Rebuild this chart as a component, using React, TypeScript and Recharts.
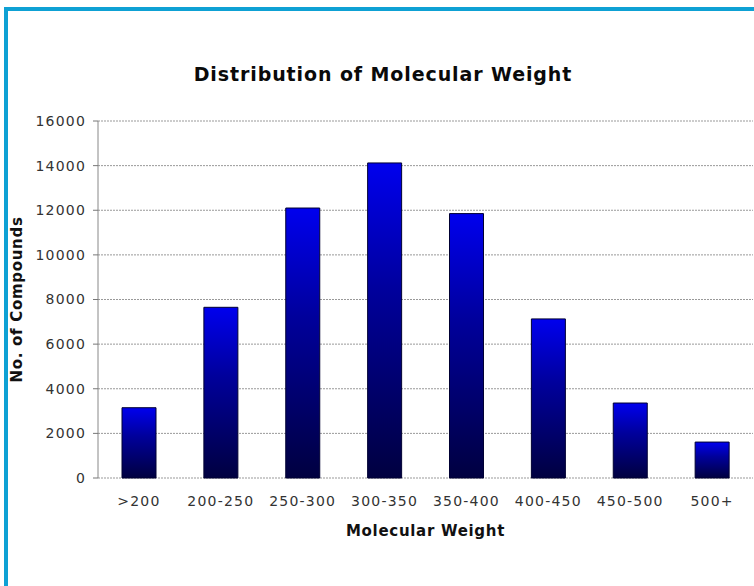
import React from "react";
import { BarChart, Bar, XAxis, YAxis, CartesianGrid, Label } from "recharts";

const categories = [">200", "200-250", "250-300", "300-350", "350-400", "400-450", "450-500", "500+"];
const compounds = [3150, 7650, 12100, 14120, 11850, 7130, 3360, 1610];
const yTicks = [0, 2000, 4000, 6000, 8000, 10000, 12000, 14000, 16000];
const edgeTicks = [0, 1, 2, 3, 4, 5, 6, 7, 8];

const data = categories.map((name, i) => ({ name, value: compounds[i] }));

const font = "'DejaVu Sans', Verdana, sans-serif";

export default function App() {
  return (
    <div style={{ position: "absolute", left: 0, top: 0, width: 754, height: 586, background: "#fff", overflow: "hidden" }}>
      {/* frame */}
      <div
        style={{
          position: "absolute",
          left: 4,
          top: 7,
          width: 800,
          height: 640,
          borderTop: "4px solid #0ea1d4",
          borderLeft: "4px solid #0ea1d4",
        }}
      />
      <div
        style={{
          position: "absolute",
          left: 0,
          top: 63,
          width: 766,
          textAlign: "center",
          fontFamily: font,
          fontWeight: "bold",
          fontSize: 19,
          letterSpacing: 0.9,
          color: "#0a0a0a",
        }}
      >
        Distribution of Molecular Weight
      </div>
      <BarChart
        width={754}
        height={586}
        data={data}
        margin={{ top: 121, right: 1, bottom: 0, left: 0 }}
        barSize={34}
        style={{ position: "absolute", left: 0, top: 0 }}
      >
        <defs>
          <linearGradient id="barFill" x1="0" y1="0" x2="0" y2="1">
            <stop offset="0%" stopColor="#0000ee" />
            <stop offset="40%" stopColor="#00009c" />
            <stop offset="100%" stopColor="#000040" />
          </linearGradient>
        </defs>
        <CartesianGrid vertical={false} stroke="#999" strokeDasharray="2 1" />
        <XAxis
          xAxisId={0}
          type="number"
          domain={[0, 8]}
          ticks={edgeTicks}
          tick={false}
          tickSize={5}
          height={0}
          stroke="#777"
          axisLine={{ stroke: "#888" }}
          tickLine={{ stroke: "#777" }}
        />
        <XAxis
          xAxisId="cat"
          dataKey="name"
          height={108}
          axisLine={false}
          tickLine={false}
          tickSize={0}
          tickMargin={18}
          interval={0}
          tick={{ fill: "#333", fontSize: 14, fontFamily: font, letterSpacing: 1.2 }}
        >
          <Label
            value="Molecular Weight"
            position="insideBottom"
            offset={50}
            style={{ fill: "#111", fontSize: 15, fontWeight: "bold", fontFamily: font, letterSpacing: 0.7 }}
          />
        </XAxis>
        <YAxis
          width={98}
          domain={[0, 16000]}
          ticks={yTicks}
          interval={0}
          tickSize={5}
          tickMargin={7}
          axisLine={{ stroke: "#888" }}
          tickLine={{ stroke: "#777" }}
          tick={{ fill: "#333", fontSize: 14, fontFamily: font, letterSpacing: 1.2 }}
        >
          <Label
            content={(props: any) => {
              const vb = props.viewBox || { x: 0, y: 0, height: 0 };
              const cx = vb.x + 17;
              const cy = vb.y + vb.height / 2;
              return (
                <text
                  x={cx}
                  y={cy}
                  transform={`rotate(-90 ${cx} ${cy})`}
                  textAnchor="middle"
                  dominantBaseline="central"
                  style={{ fill: "#111", fontSize: 15, fontWeight: "bold", fontFamily: font, letterSpacing: 0.7 }}
                >
                  No. of Compounds
                </text>
              );
            }}
          />
        </YAxis>
        <YAxis
          yAxisId="right"
          orientation="right"
          width={0}
          domain={[0, 16000]}
          tick={false}
          tickLine={false}
          axisLine={{ stroke: "#aaa", strokeDasharray: "2 1" }}
        />
        <Bar
          xAxisId="cat"
          dataKey="value"
          fill="url(#barFill)"
          stroke="#000033"
          strokeWidth={1}
          isAnimationActive={false}
        />
      </BarChart>
    </div>
  );
}
